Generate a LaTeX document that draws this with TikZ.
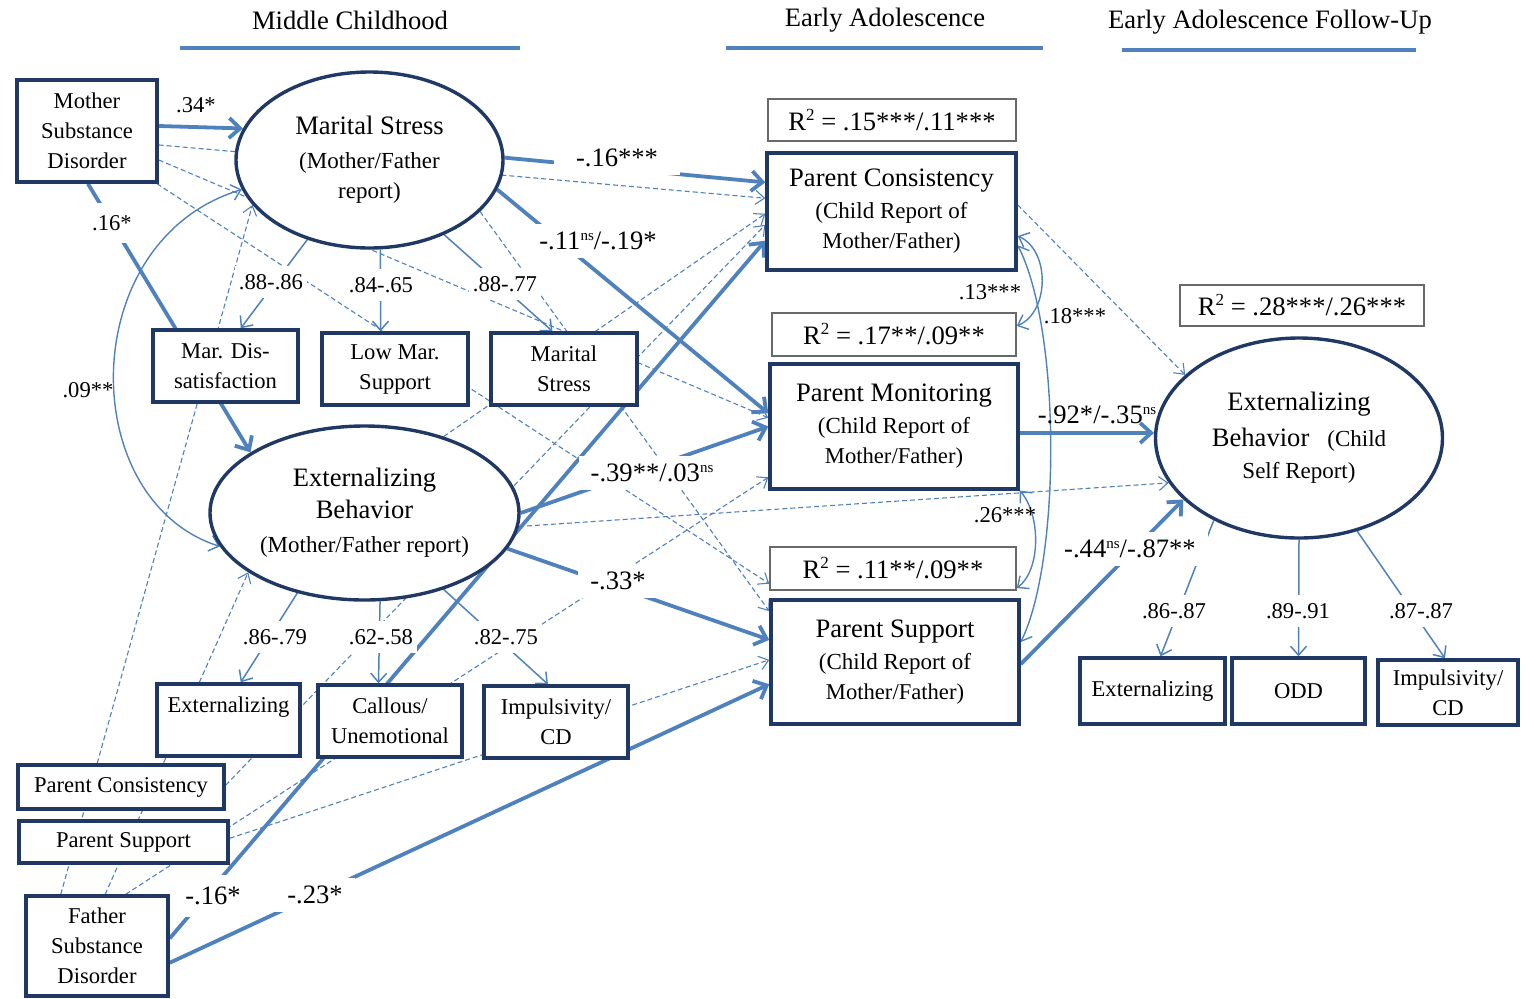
\documentclass[tikz,border=0pt]{standalone}
\usepackage{fontspec}
\setmainfont{Liberation Serif}
\usetikzlibrary{shapes.geometric,arrows.meta}
\definecolor{lineblue}{RGB}{79,129,189}
\definecolor{boxnavy}{RGB}{31,56,100}
\definecolor{rsqgray}{RGB}{105,105,105}
\newcommand\titlesize{\fontsize{13.3}{16}\selectfont}
\newcommand\subsize{\fontsize{11.5}{15}\selectfont}
\newcommand\nsup{\raisebox{4.6pt}{\fontsize{7.5}{8}\selectfont ns}}
\newcommand\rsqr{R\raisebox{5pt}{\fontsize{8.5}{9}\selectfont 2}}
\pgfdeclarelayer{paths}
\pgfsetlayers{paths,main}
\tikzset{every picture/.style={line width=0.75pt}}

\begin{document}
\begin{tikzpicture}[x=0.5pt,y=0.5pt,yscale=-1,
  varbox/.style={draw=boxnavy,line width=1.7pt,fill=white,align=center,inner sep=0pt,font=\fontsize{11.3}{15}\selectfont},
  rsq/.style={draw=rsqgray,line width=0.75pt,fill=white,inner sep=0pt,font=\titlesize},
  latent/.style={ellipse,draw=boxnavy,line width=1.7pt,fill=white,align=center,inner sep=0pt,font=\subsize},
  sig/.style={draw=lineblue,line width=1.9pt,-{Straight Barb[length=5.5pt,width=10pt]}},
  load/.style={draw=lineblue,line width=0.75pt,-{Straight Barb[length=4.5pt,width=8pt]}},
  nsig/.style={draw=lineblue,line width=0.55pt,dash pattern=on 2.5pt off 1.5pt,-{Straight Barb[length=4.5pt,width=7pt]}},
  cov/.style={draw=lineblue,line width=0.7pt,{Straight Barb[length=4.5pt,width=8pt]}-{Straight Barb[length=4.5pt,width=8pt]}},
  coef/.style={fill=white,inner xsep=6pt,inner ysep=4pt,font=\titlesize},
  loadlbl/.style={fill=white,inner xsep=2pt,inner ysep=4pt,font=\fontsize{11.3}{14}\selectfont},
  phase/.style={font=\titlesize},
  ]
	\useasboundingbox (0,0) rectangle (1526,998);

	% Text Node
	\node[phase] (mchead) at (350,20) {Middle Childhood};
	\node[phase] (eahead) at (885,20) {Early Adolescence};
	\node[phase] (fuhead) at (1270,22) {Early Adolescence Follow-Up};
	%Straight Lines
	\draw[lineblue,line width=2.4pt] (180,48) -- (520,48);
	\draw[lineblue,line width=2.4pt] (726,48) -- (1043,48);
	\draw[lineblue,line width=2.4pt] (1122,50) -- (1416,50);

	%Shape: Rectangle
	\node[varbox,minimum width=70pt,minimum height=51pt] (msd) at (87,131) {Mother\\Substance\\Disorder};
	%Shape: Ellipse
	\node[latent,minimum width=133.5pt,minimum height=88pt] (msell) at (369.5,160) {\titlesize Marital Stress\\[2pt]\subsize (Mother/Father\\report)};
	%Shape: Rectangle
	\node[varbox,minimum width=72.5pt,minimum height=36pt] (mardis) at (225.5,366) {Mar. Dis-\\satisfaction};
	\node[varbox,minimum width=73pt,minimum height=36pt] (lowmar) at (395,369) {Low Mar.\\Support};
	\node[varbox,minimum width=73pt,minimum height=36pt] (msbox) at (564,369) {Marital\\Stress};
	%Shape: Ellipse
	\node[latent,minimum width=154.5pt,minimum height=87pt] (extmc) at (364.5,513) {\titlesize Externalizing\\[1pt]\titlesize Behavior\\[2pt]\subsize (Mother/Father report)};
	%Shape: Rectangle
	\node[varbox,minimum width=71.5pt,minimum height=36pt] (extbox) at (228.5,720) {Externalizing\\~};
	\node[varbox,minimum width=72pt,minimum height=36pt] (callous) at (390,721) {Callous/\\Unemotional};
	\node[varbox,minimum width=72pt,minimum height=36pt] (impbox) at (556,722) {Impulsivity/\\CD};
	\node[varbox,minimum width=103pt,minimum height=22pt] (pcsmall) at (121,787) {Parent Consistency};
	\node[varbox,minimum width=104.5pt,minimum height=21pt] (pssmall) at (123.5,842) {Parent Support};
	\node[varbox,minimum width=71pt,minimum height=50pt] (fsd) at (97,946) {Father\\Substance\\Disorder};

	%Shape: Rectangle
	\node[rsq,minimum width=124pt,minimum height=21pt] (r2a) at (892,120) {\rsqr{} = .15***/.11***};
	\node[varbox,minimum width=124.5pt,minimum height=58.5pt] (pc) at (891.5,211.5) {\titlesize Parent Consistency\\[1pt]\subsize (Child Report of\\Mother/Father)};
	\node[rsq,minimum width=122pt,minimum height=21.5pt] (r2b) at (894,334.5) {\rsqr{} = .17**/.09**};
	\node[varbox,minimum width=124pt,minimum height=62.5pt] (pm) at (894,426.5) {\titlesize Parent Monitoring\\[1pt]\subsize (Child Report of\\Mother/Father)};
	\node[rsq,minimum width=123pt,minimum height=21.5pt] (r2c) at (893,568.5) {\rsqr{} = .11**/.09**};
	\node[varbox,minimum width=124pt,minimum height=62pt] (ps) at (895,662) {\titlesize Parent Support\\[1pt]\subsize (Child Report of\\Mother/Father)};

	%Shape: Rectangle
	\node[rsq,minimum width=122pt,minimum height=20.5pt] (r2d) at (1302,305.5) {\rsqr{} = .28***/.26***};
	%Shape: Ellipse
	\node[latent,minimum width=143.5pt,minimum height=100pt] (extc) at (1299,438) {\titlesize Externalizing\\[3pt]\titlesize Behavior\hspace{9pt}\subsize (Child\\[1pt]\subsize Self Report)};
	%Shape: Rectangle
	\node[varbox,minimum width=72.5pt,minimum height=33pt] (ext2box) at (1152.5,691) {Externalizing};
	\node[varbox,minimum width=66.5pt,minimum height=33pt] (oddbox) at (1298.5,691) {ODD};
	\node[varbox,minimum width=70pt,minimum height=32.5pt] (imp2box) at (1448,692.5) {Impulsivity/\\CD};

	\begin{pgfonlayer}{paths}
	%Straight Lines
	\draw[nsig] (msd.-11) -- (pc.174);
	\draw[nsig] (msd.-22) -- (pm.176);
	\draw[nsig] (msd.-37) -- (r2c.187);
	\draw[nsig] (fsd.125) -- (msell.201);
	\draw[nsig] (fsd.81) -- (extmc.207);
	\draw[nsig] (fsd.61) -- (pm.202);
	\draw[nsig] (pcsmall.1) -- (pc.186);
	\draw[nsig] (pssmall.2) -- (ps.179);
	\draw[nsig] (extmc.44) -- (pc.181);
	\draw[nsig] (msell.-25) -- (ps.158);
	\draw[nsig] (extmc.-5) -- (extc.199);
	\draw[nsig] (pc.3) -- (extc.151);

	%Straight Lines
	\draw[load] (msell.232) -- (mardis.68);
	\draw[load] (msell.-83) -- (lowmar.111);
	\draw[load] (msell.-45) -- (msbox.107);
	\draw[load] (extmc.230) -- (extbox.72);
	\draw[load] (extmc.-80) -- (callous.107);
	\draw[load] (extmc.-44) -- (impbox.102);
	\draw[load] (extc.224) -- (ext2box.77);
	\draw[load] (extc.-90) -- (oddbox.north);
	\draw[load] (extc.-58) -- (imp2box.95);

	%Curve Lines
	\draw[cov] (msell.193) .. controls (75,240) and (75,500) .. (extmc.193);
	\draw[cov] (pc.-11) .. controls (1050,250) and (1050,312) .. (r2b.4);
	\draw[cov] (pc.-15) .. controls (1061,330) and (1061,560) .. (ps.9);
	\draw[cov] (pm.-27) .. controls (1041,515) and (1041,570) .. (r2c.-9);

	%Straight Lines
	\draw[sig] (msd.4) -- (msell.166);
	\draw[sig] (msd.-89) -- (extmc.152);
	\draw[sig] (msell.1) -- (pc.167);
	\draw[sig] (msell.-13) -- (pm.174);
	\draw[sig] (fsd.6) -- (pc.193);
	\draw[sig] (fsd.-13) -- (ps.190);
	\draw[sig] (extmc.0) -- (pm.west);
	\draw[sig] (extmc.-14) -- (ps.170);
	\draw[sig] (pm.-3) -- (extc.178);
	\draw[sig] (ps.-1) -- (extc.208);
	\end{pgfonlayer}

	% Text Node
	\node[loadlbl,fill=none] (c34) at (196,105) {.34*};
	\node[loadlbl,inner ysep=6pt] (c16m) at (112,223) {.16*};
	\node[loadlbl,fill=none] (c09) at (88,390) {.09**};
	\node[coef,inner xsep=11pt] (c16a) at (617,158) {-.16***};
	\node[coef] (c11) at (598,241) {-.11\nsup/-.19*};
	\node[coef,inner ysep=6pt] (c16f) at (213,896) {-.16*};
	\node[coef] (c23) at (315,895) {-.23*};
	\node[coef] (c39) at (652,473) {-.39**/.03\nsup};
	\node[coef] (c33) at (618,581) {-.33*};
	\node[coef,fill=none,inner sep=1pt] (c92) at (1097,415) {-.92*/-.35\nsup};
	\node[coef] (c44) at (1130,549) {-.44\nsup/-.87**};
	\node[loadlbl,fill=none] (c13) at (990,292) {.13***};
	\node[loadlbl,fill=none] (c18) at (1075,316) {.18***};
	\node[loadlbl,fill=none] (c26) at (1005,515) {.26***};
	% Text Node
	\node[loadlbl] (l1) at (271,282) {.88-.86};
	\node[loadlbl] (l2) at (381,285) {.84-.65};
	\node[loadlbl] (l3) at (505,284) {.88-.77};
	\node[loadlbl] (l4) at (275,637) {.86-.79};
	\node[loadlbl] (l5) at (381,637) {.62-.58};
	\node[loadlbl] (l6) at (506,637) {.82-.75};
	\node[loadlbl] (l7) at (1174,611) {.86-.87};
	\node[loadlbl] (l8) at (1298,611) {.89-.91};
	\node[loadlbl] (l9) at (1421,611) {.87-.87};

\end{tikzpicture}
\end{document}
